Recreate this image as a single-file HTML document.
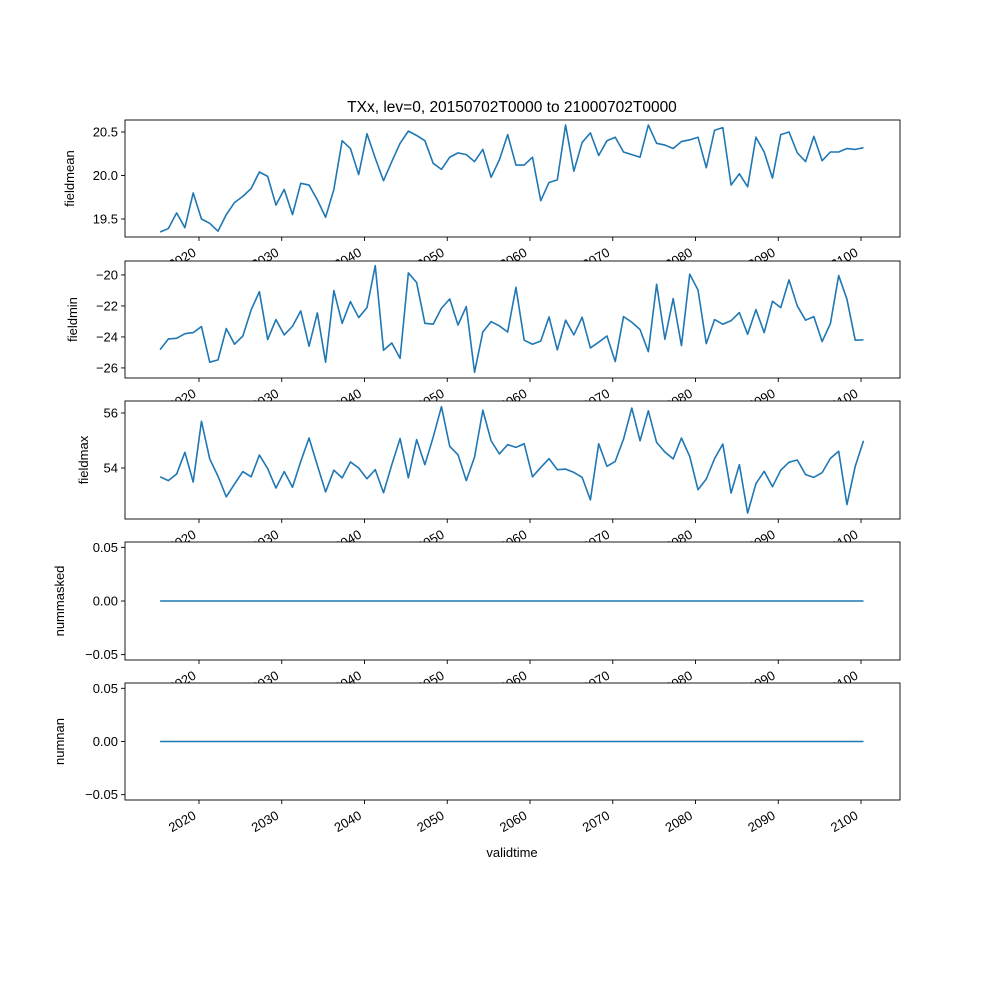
<!DOCTYPE html>
<html><head><meta charset="utf-8"><style>
html,body{margin:0;padding:0;background:#fff}
svg{display:block;font-family:"Liberation Sans","DejaVu Sans",sans-serif}
</style></head><body>
<svg id="chart" width="1000" height="1000" viewBox="0 0 1000 1000">
<text x="512" y="112" font-size="15.5" text-anchor="middle">TXx, lev=0, 20150702T0000 to 21000702T0000</text>
</svg>
<script>
const xTicks = [2020, 2030, 2040, 2050, 2060, 2070, 2080, 2090, 2100];
const fieldmean = [19.35,19.39,19.57,19.40,19.80,19.50,19.45,19.36,19.55,19.69,19.76,19.85,20.04,19.99,19.66,19.84,19.55,19.91,19.89,19.72,19.52,19.84,20.40,20.31,20.01,20.48,20.20,19.94,20.16,20.37,20.51,20.46,20.40,20.14,20.07,20.21,20.26,20.24,20.16,20.30,19.98,20.18,20.47,20.12,20.12,20.21,19.71,19.92,19.95,20.58,20.05,20.38,20.49,20.23,20.40,20.44,20.27,20.24,20.21,20.58,20.37,20.35,20.31,20.39,20.41,20.44,20.09,20.52,20.55,19.89,20.02,19.87,20.44,20.27,19.97,20.47,20.50,20.26,20.16,20.45,20.17,20.27,20.27,20.31,20.30,20.32];
const fieldmin = [-24.82,-24.13,-24.09,-23.79,-23.72,-23.33,-25.63,-25.48,-23.46,-24.47,-23.94,-22.26,-21.08,-24.17,-22.88,-23.87,-23.31,-22.32,-24.60,-22.45,-25.63,-21.01,-23.12,-21.72,-22.75,-22.11,-19.40,-24.86,-24.39,-25.38,-19.87,-20.49,-23.12,-23.18,-22.15,-21.55,-23.23,-22.04,-26.28,-23.68,-23.01,-23.29,-23.68,-20.80,-24.21,-24.47,-24.26,-22.71,-24.84,-22.92,-23.87,-22.73,-24.71,-24.34,-23.94,-25.59,-22.69,-23.05,-23.53,-24.95,-20.60,-24.15,-21.53,-24.56,-19.95,-20.97,-24.43,-22.88,-23.18,-22.95,-22.43,-23.83,-22.24,-23.72,-21.70,-22.11,-20.32,-22.00,-22.92,-22.69,-24.30,-23.14,-20.04,-21.57,-24.21,-24.19];
const fieldmax = [53.68,53.54,53.78,54.57,53.49,55.70,54.33,53.70,52.95,53.42,53.87,53.68,54.47,53.98,53.27,53.87,53.30,54.24,55.09,54.10,53.13,53.92,53.64,54.22,54.00,53.61,53.94,53.10,54.12,55.07,53.64,55.03,54.12,55.12,56.23,54.79,54.48,53.54,54.40,56.10,54.99,54.51,54.85,54.75,54.88,53.68,54.02,54.34,53.94,53.96,53.84,53.66,52.84,54.88,54.06,54.24,55.05,56.18,54.99,56.08,54.93,54.58,54.33,55.09,54.42,53.21,53.60,54.34,54.87,53.09,54.12,52.36,53.43,53.88,53.32,53.92,54.21,54.29,53.76,53.66,53.83,54.35,54.61,52.67,54.06,54.99];
const nummasked = fieldmean.map(() => 0);
const numnan = fieldmean.map(() => 0);
const startYear = 2015.3;
const fieldmeanTicks = [19.5, 20.0, 20.5];
const fieldmeanTickLabels = ["19.5", "20.0", "20.5"];
const fieldminTicks = [-26, -24, -22, -20];
const fieldminTickLabels = ["\u221226", "\u221224", "\u221222", "\u221220"];
const fieldmaxTicks = [54, 56];
const fieldmaxTickLabels = ["54", "56"];
const zeroTicks = [-0.05, 0, 0.05];
const zeroTickLabels = ["\u22120.05", "0.00", "0.05"];

const NS = "http://www.w3.org/2000/svg";
const svg = document.getElementById('chart');
const L = 125, R = 900, X0 = 2011.06, X1 = 2104.71;
function xScale(v){ return L + (v - X0) / (X1 - X0) * (R - L); }
function mk(tag, attrs, parent){ const e = document.createElementNS(NS, tag); for (const k in attrs) e.setAttribute(k, attrs[k]); (parent || svg).appendChild(e); return e; }

const panels = [
  {name:'fieldmean', vals:fieldmean, top:120, bot:237, ymin:19.293, ymax:20.638, ticks:fieldmeanTicks, labels:fieldmeanTickLabels, ylx:74},
  {name:'fieldmin', vals:fieldmin, top:261, bot:378, ymin:-26.65, ymax:-19.10, ticks:fieldminTicks, labels:fieldminTickLabels, ylx:77},
  {name:'fieldmax', vals:fieldmax, top:401, bot:519, ymin:52.145, ymax:56.436, ticks:fieldmaxTicks, labels:fieldmaxTickLabels, ylx:88},
  {name:'nummasked', vals:nummasked, top:542, bot:660, ymin:-0.055, ymax:0.055, ticks:zeroTicks, labels:zeroTickLabels, ylx:64},
  {name:'numnan', vals:numnan, top:683, bot:800, ymin:-0.055, ymax:0.055, ticks:zeroTicks, labels:zeroTickLabels, ylx:64}
];

panels.forEach(p => {
  const g = mk('g', {});
  
  
  const bg = mk('rect', {x:L, y:p.top, width:R-L, height:p.bot-p.top, fill:'#fff'}, g);
  
  
  const yScale = v => p.bot - (v - p.ymin) / (p.ymax - p.ymin) * (p.bot - p.top);
  const pts = p.vals.map((v, i) => xScale(startYear + i).toFixed(2) + ',' + yScale(v).toFixed(2)).join(' ');
  const line = mk('polyline', {points:pts, fill:'none', stroke:'#1f77b4', 'stroke-width':1.6, 'stroke-linejoin':'round'}, g);
  
  
  const frame = mk('rect', {x:L, y:p.top, width:R-L, height:p.bot-p.top, fill:'none', stroke:'#000', 'stroke-width':0.9}, g);
  
  
  p.ticks.forEach((t, i) => {
    const y = yScale(t);
    mk('line', {x1:L-4, x2:L, y1:y, y2:y, stroke:'#000', 'stroke-width':0.9}, g);
    const tx = mk('text', {x:L-7, y:y+4.5, 'font-size':13, 'text-anchor':'end'}, g);
    tx.textContent = p.labels[i];
    
    
  });
  xTicks.forEach(t => {
    const x = xScale(t);
    mk('line', {x1:x, x2:x, y1:p.bot, y2:p.bot+4, stroke:'#000', 'stroke-width':0.9}, g);
    const ax = x - 2, ay = p.bot + 18;
    const tx = mk('text', {x:ax, y:ay, 'font-size':13, 'text-anchor':'end', transform:'rotate(-30 ' + ax + ' ' + ay + ')'}, g);
    tx.textContent = String(t);
    
    
  });
  const cy = (p.top + p.bot) / 2;
  const yl = mk('text', {x:p.ylx, y:cy, 'font-size':13, 'text-anchor':'middle', transform:'rotate(-90 ' + p.ylx + ' ' + cy + ')'}, g);
  yl.textContent = p.name;
  
  
});
const xl = mk('text', {x:512, y:857, 'font-size':13, 'text-anchor':'middle'});
xl.textContent = 'validtime';


</script>
</body></html>
